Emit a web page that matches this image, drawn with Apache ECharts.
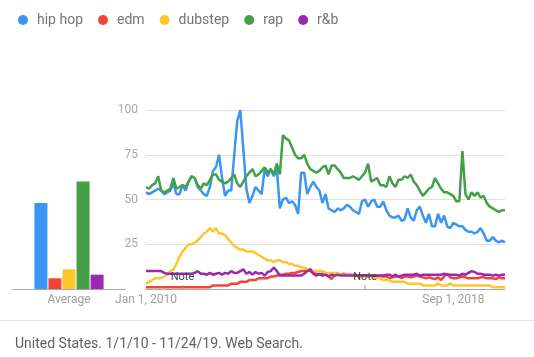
<!DOCTYPE html>
<html>
<head>
<meta charset="utf-8">
<script src="https://cdn.jsdelivr.net/npm/echarts@6/dist/echarts.min.js"></script>
<style>
html,body{margin:0;padding:0;background:#fff;}
#chart{width:534px;height:357px;}
</style>
</head>
<body>
<div id="chart"></div>
<script>
var seriesNames = ['hip hop', 'edm', 'dubstep', 'rap', 'r&b'];
var seriesColors = ['#3a96f2', '#f44336', '#fcc72c', '#43a047', '#9c27b0'];

// monthly categories Jan 2010 .. Nov 2019
var months = [];
for (var y = 2010; y <= 2019; y++) {
  for (var m = 1; m <= 12; m++) {
    if (y === 2019 && m > 11) break;
    months.push(y + '-' + (m < 10 ? '0' + m : '' + m));
  }
}
var tickLabels = { '2010-01': 'Jan 1, 2010', '2018-09': 'Sep 1, 2018' };
var noteMonths = ['2011-01', '2016-01'];

var hipHop = [
  54, 53, 54, 55, 56, 55, 53, 54, 55, 59,
  53, 53, 58, 55, 60, 63, 62, 57, 55, 53,
  52, 57, 66, 68, 75, 62, 52, 55, 55, 75,
  94, 100, 78, 56, 48, 52, 57, 55, 53, 67,
  63, 67, 63, 67, 45, 50, 51, 48, 49, 47,
  42, 65, 65, 53, 57, 60, 57, 55, 48, 53,
  45, 44, 43, 45, 44, 45, 47, 46, 44, 43,
  42, 49, 50, 46, 49, 50, 46, 46, 49, 44,
  41, 40, 40, 41, 38, 39, 45, 40, 38, 44,
  46, 41, 37, 42, 35, 35, 42, 37, 41, 35,
  34, 37, 36, 35, 35, 33, 32, 32, 31, 32,
  34, 31, 27, 27, 29, 27, 26, 27, 26
];
var edm = [
  1, 1, 1, 1, 1, 1, 1, 1, 1, 1,
  1, 1, 1, 1, 1, 1, 1, 1, 1, 1,
  1, 1, 2, 2, 2, 2, 2, 2, 3, 3,
  3, 4, 4, 4, 5, 5, 5, 6, 6, 6,
  6, 7, 7, 7.5, 8, 8, 8.5, 8.5, 9, 9,
  9.5, 10, 10, 11, 10, 9, 8.5, 8, 8.5, 9,
  7, 5.5, 8, 8, 8, 8.5, 8, 8, 8, 7.5,
  7.5, 7.5, 7.5, 7, 7.5, 7, 7, 7.5, 7, 7,
  6, 6.5, 7, 7, 6, 7, 7, 6.5, 7, 7.5,
  7, 6.5, 6, 6.5, 6, 5.5, 6.5, 5, 7, 8.5,
  6.5, 6, 6, 6.5, 7, 6.5, 6, 6, 6, 6,
  6.5, 6.5, 6, 6, 6, 5.5, 6.5, 6, 6
];
var dubstep = [
  3, 4, 5, 6, 6, 6, 7, 8, 10, 11,
  14, 18, 21, 23, 25, 25, 26, 27, 29, 31,
  32, 34, 32, 34, 31, 31, 30, 28, 26, 24,
  23, 22, 22, 21, 21, 21, 20, 19, 18, 17,
  16, 16, 15, 16, 16, 15, 15, 14, 14, 13,
  13, 12, 12, 11, 11, 10, 10, 10, 10, 9,
  9, 9, 9, 9, 8, 8, 8, 8, 8, 8,
  7, 7, 7, 7, 7, 6, 6, 6, 5, 5,
  5, 4, 4, 4, 4, 4, 3, 3, 3, 3,
  3, 2, 2, 2, 2, 2, 3, 2, 2, 2,
  3, 2, 2, 2, 2, 2, 2, 2, 2, 2,
  2, 2, 2, 2, 1, 1, 1, 1, 1
];
var rap = [
  57, 56, 58, 59, 63, 55, 54, 55, 56, 62,
  56, 57, 58, 57, 60, 63, 62, 58, 56, 59,
  58, 61, 64, 64, 61, 60, 59, 60, 62, 64,
  59, 57, 60, 63, 65, 67, 63, 64, 66, 68,
  65, 67, 64, 70, 64, 86, 84, 83, 79, 75,
  73, 73, 75, 70, 67, 66, 65, 66, 68, 69,
  64, 69, 69, 67, 65, 62, 62, 62, 63, 62,
  61, 63, 65, 70, 60, 61, 62, 58, 58, 57,
  63, 59, 57, 61, 61, 63, 62, 64, 60, 58,
  55, 52, 54, 56, 57, 62, 59, 56, 54, 54,
  53, 52, 49, 49, 77, 53, 50, 54, 52, 54,
  51, 52, 48, 46, 45, 44, 43, 44, 44
];
var rnb = [
  10, 10, 10, 10, 10, 10, 9, 8.5, 8.5, 8.5,
  8.5, 8.5, 8.5, 8.5, 8.5, 8.5, 9, 10, 8.5, 8.5,
  8, 9, 8, 8.5, 9, 8, 9, 8.5, 10, 9,
  9, 10, 11, 8.5, 9.5, 8, 9.5, 8.5, 9, 7.5,
  9.5, 10, 12, 10, 7.5, 7.5, 7.5, 7.5, 7.5, 7.5,
  7.5, 7.5, 8.5, 10, 11, 8.5, 7.5, 8.5, 7.5, 8,
  7, 8, 7.5, 8, 7.5, 7.5, 7.5, 7.5, 7.5, 7.5,
  7.5, 7.5, 7.5, 7.5, 7.5, 7.5, 7.5, 7.5, 7.5, 8,
  8, 7, 8, 7, 7.5, 8, 8, 8, 8, 8.5,
  7.5, 8, 8, 8, 8, 8, 8, 8, 8.5, 8,
  8, 8, 8, 7.5, 8.5, 8, 9, 10, 9.5, 8.5,
  8.5, 8, 8, 8, 7.5, 8, 7.5, 8, 8
];
var averages = [48, 6, 11, 60, 8];
var yTicks = [0, 25, 50, 75, 100];

var lineData = [hipHop, edm, dubstep, rap, rnb];
var FONT = 'Roboto, "Noto Sans", sans-serif';

var chart = echarts.init(document.getElementById('chart'), null, { renderer: 'canvas' });

var series = [];
// average bars
seriesNames.forEach(function (name, k) {
  series.push({
    name: name,
    type: 'bar',
    xAxisIndex: 1,
    yAxisIndex: 1,
    data: [averages[k]],
    barWidth: 13,
    barGap: '8%',
    itemStyle: { color: seriesColors[k] },
    silent: true
  });
});
// lines
seriesNames.forEach(function (name, k) {
  var s = {
    name: name,
    type: 'line',
    xAxisIndex: 0,
    yAxisIndex: 0,
    data: lineData[k],
    symbol: 'none',
    lineStyle: { width: 2.5, color: seriesColors[k] },
    itemStyle: { color: seriesColors[k] },
    silent: true
  };
  if (k === 1) {
    s.markPoint = {
      silent: true,
      data: noteMonths.map(function (mo) {
        return {
          coord: [mo, 0],
          symbol: 'rect',
          symbolSize: [1, 4],
          symbolOffset: [0, -2],
          itemStyle: { color: '#9e9e9e' },
          label: {
            show: true, position: 'top', distance: 2, formatter: 'Note',
            color: '#444', fontSize: 11, fontFamily: FONT
          }
        };
      })
    };
  }
  series.push(s);
});

chart.setOption({
  animation: false,
  textStyle: { fontFamily: FONT },
  legend: {
    data: seriesNames,
    left: 13,
    top: 8,
    icon: 'circle',
    itemWidth: 10,
    itemHeight: 10,
    itemGap: 15,
    textStyle: { fontSize: 14, color: '#757575', fontFamily: FONT, padding: [0, 0, 0, 4] }
  },
  grid: [
    { left: 146, right: 29, top: 110, bottom: 68 },
    { left: 13, width: 112, top: 110, bottom: 68 }
  ],
  xAxis: [
    {
      type: 'category', gridIndex: 0, data: months, boundaryGap: false,
      axisLine: { lineStyle: { color: '#a8a8a8', width: 1 } },
      axisTick: { show: false },
      splitLine: { show: false },
      axisLabel: {
        interval: function (idx) { return idx === 0 || idx === 104; },
        formatter: function (v) {
          var t = tickLabels[v] || '';
          return v === '2018-09' ? '{s|' + t + '}' : t;
        },
        rich: { s: { padding: [0, 18, 0, 0], fontSize: 12, color: '#9e9e9e', fontFamily: FONT } },
        color: '#9e9e9e', fontSize: 12, margin: 5, fontFamily: FONT
      }
    },
    {
      type: 'category', gridIndex: 1, data: ['Average'],
      axisLine: { lineStyle: { color: '#a8a8a8', width: 1 } },
      axisTick: { show: false },
      axisLabel: { color: '#9e9e9e', fontSize: 12, margin: 5, fontFamily: FONT }
    }
  ],
  yAxis: [
    {
      type: 'value', gridIndex: 0, min: yTicks[0], max: yTicks[yTicks.length - 1], interval: 25,
      axisLine: { show: false }, axisTick: { show: false },
      splitLine: { lineStyle: { color: '#e0e0e0', width: 1 } },
      axisLabel: {
        showMinLabel: false,
        color: '#a8a8a8', fontSize: 12, margin: 8, fontFamily: FONT
      }
    },
    {
      type: 'value', gridIndex: 1, min: 0, max: 100, show: false
    }
  ],
  graphic: [
    { type: 'rect', shape: { x: 0, y: 320, width: 534, height: 1 }, style: { fill: '#e0e0e0' }, silent: true },
    {
      type: 'text', left: 15, top: 337,
      style: { text: 'United States. 1/1/10 - 11/24/19. Web Search.', fill: '#616161', fontSize: 14, fontFamily: FONT },
      silent: true
    }
  ],
  series: series
});
</script>
</body>
</html>
